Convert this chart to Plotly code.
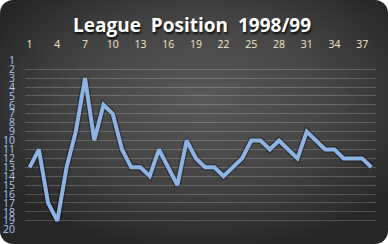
import base64
import plotly.graph_objects as go

matches = list(range(1, 39))
positions = [13, 11, 17, 19, 13, 9, 3, 10, 6, 7, 11, 13, 13, 14, 11, 13, 15, 10, 12, 13,
             13, 14, 13, 12, 10, 10, 11, 10, 11, 12, 9, 10, 11, 11, 12, 12, 12, 13]
x_ticks = list(range(1, 38, 3))
y_ticks = list(range(1, 21))
title_text = "League\u00a0 Position\u00a0 1998/99"

W, H = 388, 244
ml, mr, mt, mb = 25, 12, 60, 14
pw, ph = W - ml - mr, H - mt - mb

svg = f'''<svg xmlns="http://www.w3.org/2000/svg" width="{W}" height="{H}" viewBox="0 0 {W} {H}">
<defs><radialGradient id="g" cx="52%" cy="42%" r="62%" fx="52%" fy="40%">
<stop offset="0%" stop-color="#585858"/><stop offset="55%" stop-color="#444444"/><stop offset="100%" stop-color="#262626"/>
</radialGradient></defs>
<rect x="0" y="0" width="{W}" height="{H}" rx="13" ry="13" fill="url(#g)"/>
</svg>'''
src = "data:image/svg+xml;base64," + base64.b64encode(svg.encode()).decode()

fig = go.Figure()
fig.add_trace(go.Scatter(x=matches, y=positions, mode="lines",
                         line=dict(color="rgba(0,0,0,0.35)", width=6.5),
                         hoverinfo="skip", showlegend=False))
fig.add_trace(go.Scatter(x=matches, y=positions, mode="lines",
                         line=dict(color="#8db3e2", width=4),
                         showlegend=False))

fig.update_layout(
    width=W, height=H,
    margin=dict(l=ml, r=mr, t=mt, b=mb),
    paper_bgcolor="white",
    plot_bgcolor="rgba(0,0,0,0)",
    images=[dict(source=src, xref="paper", yref="paper",
                 x=-ml / pw, y=1 + mt / ph, sizex=W / pw, sizey=H / ph,
                 xanchor="left", yanchor="top", sizing="stretch", layer="below")],
    title=dict(text=title_text, x=0.495, xref="container", y=1 - 25 / H, yref="container",
               xanchor="center", yanchor="middle",
               font=dict(family="Open Sans", size=19, color="white", weight="bold",
                         shadow="1px 2px 2px rgba(0,0,0,0.8)")),
    xaxis=dict(range=[0.5, 38.5], side="top", tickvals=x_ticks, showgrid=False,
               zeroline=False, showline=False, ticks="", ticklabelstandoff=9,
               automargin=False,
               tickfont=dict(family="Open Sans", size=10.5, color="#f3e8c8")),
    yaxis=dict(range=[20.03, 0.97], tickvals=y_ticks, showgrid=True,
               gridcolor="rgba(255,255,255,0.2)", gridwidth=1,
               zeroline=False, showline=False, ticks="", ticklabelstandoff=9,
               automargin=False,
               tickfont=dict(family="Open Sans", size=10.5, color="#a9cbf0")),
)

fig.write_html("out.html")
